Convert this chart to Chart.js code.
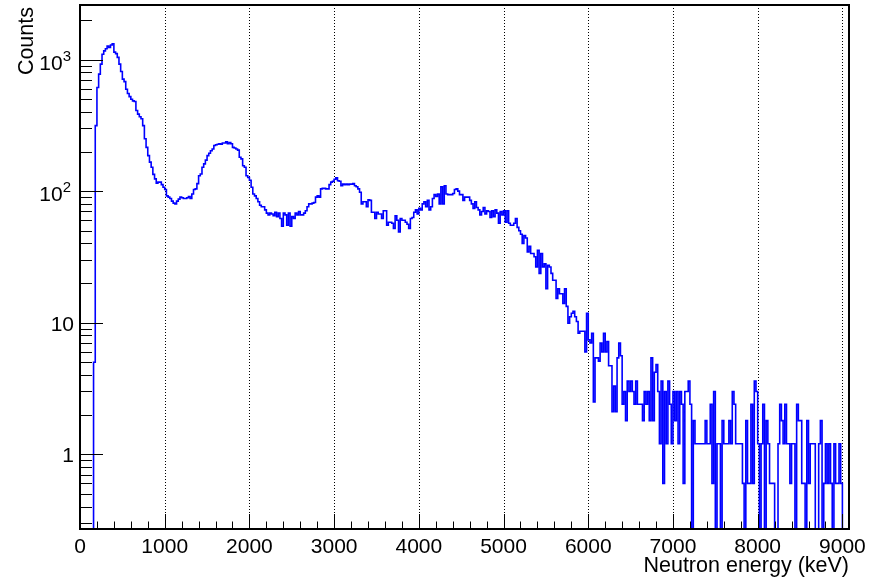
<!DOCTYPE html>
<html>
<head>
<meta charset="utf-8">
<script src="https://cdn.jsdelivr.net/npm/chart.js@4.4.1/dist/chart.umd.min.js"></script>
<style>
  html, body { margin: 0; padding: 0; background: #fff; }
  #wrap { width: 880px; height: 578px; }
</style>
</head>
<body>
<div id="wrap"><canvas id="spectrum" width="880" height="578"></canvas></div>
<script>
// histogram binning (keV)
const binStart = 0;
const binWidth = 20;

// bin contents (0 = empty bin, below the axis)
const counts = [
  0, 0, 0, 0, 0, 0, 0, 0, 5, 315,
  614, 775, 923, 1099, 1165, 1210, 1270, 1235, 1290, 1318,
  1140, 1110, 1040, 923, 811, 710, 680, 595, 553, 523,
  500, 485, 480, 410, 385, 368, 355, 315, 250, 215,
  186, 166, 152, 134, 124, 115, 117, 117, 112, 107,
  103, 92, 90, 88, 84, 81, 80, 84, 87, 90,
  89, 88, 88, 89, 91, 88, 95, 103, 104, 114,
  131, 135, 152, 161, 172, 186, 194, 203, 209, 222,
  225, 227, 229, 227, 232, 232, 237, 229, 234, 229,
  215, 213, 209, 205, 181, 176, 156, 152, 131, 127,
  121, 107, 95, 92, 88, 83, 78, 76, 76, 72,
  68, 66, 68, 67, 65, 69, 64, 68, 62, 54,
  68, 66, 55, 68, 54, 64, 62, 68, 66, 70,
  66, 66, 68, 71, 76, 80, 80, 81, 82, 90,
  92, 90, 104, 105, 105, 104, 104, 112, 117, 119,
  123, 126, 120, 119, 110, 113, 112, 113, 112, 113,
  113, 114, 110, 108, 104, 98, 80, 83, 83, 76,
  86, 85, 69, 69, 62, 69, 67, 67, 62, 71,
  71, 55, 58, 58, 57, 52, 65, 60, 49, 62,
  60, 60, 58, 56, 52, 62, 63, 69, 72, 67,
  74, 72, 80, 83, 76, 85, 72, 76, 88, 94,
  91, 95, 80, 108, 80, 110, 95, 94, 94, 94,
  96, 103, 104, 100, 94, 94, 85, 90, 90, 90,
  85, 80, 74, 83, 75, 72, 66, 70, 75, 67,
  71, 70, 63, 71, 64, 72, 68, 57, 70, 66,
  71, 58, 71, 57, 55, 55, 57, 62, 53, 50,
  47, 40, 46, 44, 34.5, 38, 33.6, 33.6, 31.7, 26.5,
  35.5, 23.7, 33.6, 26.5, 28, 18.1, 27.3, 26.5, 23.7, 21,
  21, 15.3, 18.1, 16.6, 16.6, 14, 18.1, 13.3, 9.9, 11.1,
  11.8, 12.2, 11.1, 10.2, 8.3, 8.6, 8.6, 8.6, 6.0, 11.8,
  7.4, 7.0, 8.3, 2.5, 5.4, 5.4, 5.1, 7.0, 6.0, 8.3,
  6.0, 7.2, 4.7, 4.7, 2.1, 3.3, 2.1, 5.4, 7.0, 5.6,
  2.4, 3.0, 1.8, 3.6, 3.0, 3.6, 3.0, 2.4, 3.6, 2.4,
  2.4, 2.4, 1.8, 3.0, 2.4, 3.0, 1.8, 5.4, 1.8, 4.2,
  4.8, 3.0, 1.2, 3.6, 0.6, 3.0, 1.2, 3.6, 2.4, 1.2,
  3.0, 1.8, 3.0, 1.2, 3.0, 2.4, 0.6, 3.0, 3.0, 3.6,
  2.4, 0, 1.8, 1.2, 1.2, 1.2, 1.2, 1.2, 1.2, 1.8,
  1.2, 1.2, 2.4, 0.6, 3.0, 0, 1.2, 1.2, 0, 1.8,
  1.2, 1.2, 1.2, 1.8, 1.2, 3.0, 2.4, 1.2, 1.2, 1.2,
  1.2, 0.6, 0, 1.8, 0.6, 0.6, 2.4, 0.6, 3.6, 3.0,
  1.2, 0, 1.2, 2.4, 0, 1.8, 1.2, 0.6, 0.6, 0.6,
  0, 0, 1.2, 2.4, 1.8, 1.2, 2.4, 1.2, 1.2, 0.6,
  1.2, 1.2, 0, 2.4, 1.8, 1.8, 0.6, 0.6, 0, 1.8,
  0.6, 1.2, 1.2, 1.2, 0, 0, 1.2, 1.8, 0, 0.6,
  1.2, 0.6, 1.2, 0.6, 0, 1.2, 0.6, 0.6, 1.2, 0.6
];

// axes
const xMin = 0;
const xMax = 9078;
const yMin = 0.27;
const yMax = 2600;
const xTickValues = [0, 1000, 2000, 3000, 4000, 5000, 6000, 7000, 8000, 9000];
const yTickValues = [1, 10, 100, 1000];
const yTickLabels = ['1', '10', '10^2', '10^3'];
const xTitle = 'Neutron energy (keV)';
const yTitle = 'Counts';

const fontFamily = "'Liberation Sans', Arial, sans-serif";
Chart.defaults.font.family = fontFamily;
Chart.defaults.color = '#000';

// step points: low edge of every bin, plus the closing edge of the last one
const floorValue = yMin / 10; // empty bins fall below the visible range
const points = counts.map((c, i) => ({ x: binStart + i * binWidth, y: c > 0 ? c : floorValue }));
points.push({ x: binStart + counts.length * binWidth, y: floorValue });

// ROOT-like frame: dotted x grid, inward ticks, y labels with exponents, axis titles
const rootAxes = {
  id: 'rootAxes',
  beforeDatasetsDraw(chart) {
    const { ctx, chartArea: area, scales } = chart;
    ctx.save();
    ctx.strokeStyle = '#000';
    ctx.lineWidth = 1;
    ctx.setLineDash([1, 2]);
    xTickValues.forEach(v => {
      if (v === xMin) return;
      const px = Math.round(scales.x.getPixelForValue(v)) + 0.5;
      ctx.beginPath();
      ctx.moveTo(px, area.top);
      ctx.lineTo(px, area.bottom);
      ctx.stroke();
    });
    ctx.restore();
  },
  afterDatasetsDraw(chart) {
    const { ctx, chartArea: area, scales } = chart;
    ctx.save();
    ctx.strokeStyle = '#000';
    ctx.lineWidth = 1;
    ctx.beginPath();
    // x: major every 1000, minor every 200
    for (let v = xMin; v <= xMax; v += 200) {
      const px = Math.round(scales.x.getPixelForValue(v)) + 0.5;
      const len = v % 1000 === 0 ? 15 : 7.5;
      ctx.moveTo(px, area.bottom);
      ctx.lineTo(px, area.bottom - len);
    }
    // y: decades long, 2..9 short
    for (let d = -1; d <= 3; d++) {
      for (let m = 1; m <= 9; m++) {
        const v = m * Math.pow(10, d);
        if (v < yMin || v > yMax) continue;
        const py = Math.round(scales.y.getPixelForValue(v)) + 0.5;
        ctx.moveTo(area.left, py);
        ctx.lineTo(area.left + (m === 1 ? 23 : 12), py);
      }
    }
    ctx.stroke();
    ctx.lineWidth = 2;
    ctx.strokeRect(area.left, area.top, area.right - area.left, area.bottom - area.top);
    ctx.restore();
  },
  afterDraw(chart) {
    const { ctx, chartArea: area, scales } = chart;
    ctx.save();
    ctx.fillStyle = '#000';
    ctx.textAlign = 'right';
    ctx.textBaseline = 'alphabetic';

    // y labels, "10^n" drawn with a raised exponent
    yTickValues.forEach((v, i) => {
      const py = scales.y.getPixelForValue(v);
      const [base, exp] = yTickLabels[i].split('^');
      if (exp) {
        ctx.font = '15px ' + fontFamily;
        ctx.fillText(exp, area.left - 9, py + 1);
        const expW = ctx.measureText(exp).width;
        ctx.font = '21px ' + fontFamily;
        ctx.fillText(base, area.left - 9 - expW, py + 10);
      } else {
        ctx.font = '21px ' + fontFamily;
        ctx.fillText(base, area.left - 6, py + 8);
      }
    });

    ctx.font = '21.5px ' + fontFamily;
    ctx.fillText(xTitle, area.right, 572);
    ctx.translate(33, area.top + 2);
    ctx.rotate(-Math.PI / 2);
    ctx.fillText(yTitle, 0, 0);
    ctx.restore();
  }
};

const chart = new Chart(document.getElementById('spectrum'), {
  type: 'line',
  data: {
    datasets: [{
      data: points,
      borderColor: '#0000ff',
      borderWidth: 1.6,
      stepped: true,
      tension: 0,
      pointRadius: 0,
      fill: false
    }]
  },
  options: {
    responsive: false,
    animation: false,
    layout: { padding: { top: 5, right: 31, left: 0, bottom: 0 } },
    plugins: { legend: { display: false }, tooltip: { enabled: false } },
    scales: {
      x: {
        type: 'linear',
        min: xMin,
        max: xMax,
        grid: { display: false, drawTicks: false },
        border: { display: false },
        afterBuildTicks: scale => { scale.ticks = xTickValues.map(v => ({ value: v })); },
        afterFit: scale => { scale.height = 49; scale.paddingLeft = 0; scale.paddingRight = 0; },
        ticks: { autoSkip: false, maxRotation: 0, padding: 6, font: { size: 21 }, callback: v => String(v) }
      },
      y: {
        type: 'logarithmic',
        min: yMin,
        max: yMax,
        grid: { display: false, drawTicks: false },
        border: { display: false },
        afterBuildTicks: scale => { scale.ticks = yTickValues.map(v => ({ value: v })); },
        afterFit: scale => { scale.width = 80; scale.paddingTop = 0; scale.paddingBottom = 0; },
        ticks: { display: false }
      }
    }
  },
  plugins: [rootAxes]
});
</script>
</body>
</html>
